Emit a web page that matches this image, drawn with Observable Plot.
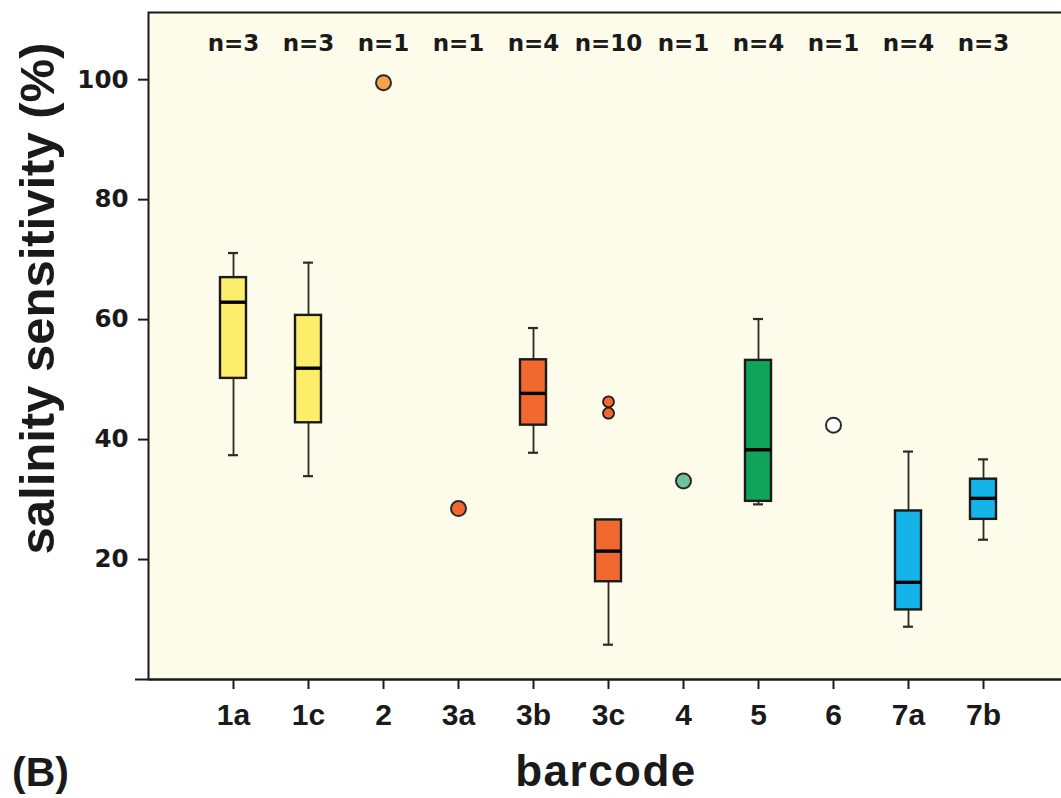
<!DOCTYPE html>
<html>
<head>
<meta charset="utf-8">
<script src="https://cdn.jsdelivr.net/npm/d3@7"></script>
<script src="https://cdn.jsdelivr.net/npm/@observablehq/plot@0.6"></script>
<style>
  html, body { margin: 0; padding: 0; background: #ffffff; overflow: hidden; }
  body { width: 1061px; height: 798px; position: relative; font-family: "Liberation Sans", Arial, sans-serif; color: #1a1a1a; }
  #chart { position: absolute; left: 0; top: 0; width: 1061px; height: 798px; overflow: hidden; }
  #chart svg { max-width: none !important; }
  #chart g[aria-label="text"] text { font-family: "DejaVu Sans", sans-serif; }
  #chart g[aria-label="y-axis tick label"] text { font-family: "DejaVu Sans", sans-serif; }
  .lbl { position: absolute; font-weight: bold; line-height: 1; white-space: nowrap; color: #1a1a1a; }
  #ylab { left: -263px; top: 273.5px; width: 600px; text-align: center; font-size: 49px; transform: rotate(-90deg); transform-origin: 300px 24.5px; }
  #xlab { left: 456px; top: 749px; width: 300px; text-align: center; font-size: 44px; letter-spacing: 1.5px; }
  #panel { left: 12px; top: 752px; font-size: 41px; }
</style>
</head>
<body>
<div id="chart"></div>
<div class="lbl" id="ylab">salinity sensitivity (%)</div>
<div class="lbl" id="xlab">barcode</div>
<div class="lbl" id="panel">(B)</div>
<script>
// categories
const barcodes = ["1a", "1c", "2", "3a", "3b", "3c", "4", "5", "6", "7a", "7b"];
const nCounts = [3, 3, 1, 1, 4, 10, 1, 4, 1, 4, 3];
const fillColors = ["#fcee6b", "#fcee6b", "#f6a24b", "#f2692f", "#f2692f", "#f2692f", "#6dc49c", "#10a45a", "#ffffff", "#14b4ea", "#14b4ea"];

// box plot series
const boxBarcodes = ["1a", "1c", "3b", "3c", "5", "7a", "7b"];
const whiskerLow = [37.4, 33.9, 37.8, 5.8, 29.2, 8.8, 23.3];
const q1 = [50.2, 42.8, 42.4, 16.3, 29.7, 11.6, 26.7];
const median = [62.9, 51.9, 47.7, 21.4, 38.3, 16.2, 30.2];
const q3 = [67.0, 60.7, 53.3, 26.6, 53.2, 28.1, 33.4];
const whiskerHigh = [71.1, 69.5, 58.6, 26.6, 60.1, 38.0, 36.7];

// single observations
const pointBarcodes = ["2", "3a", "4", "6"];
const pointValues = [99.5, 28.5, 33.1, 42.4];

// outliers
const outlierBarcodes = ["3c", "3c"];
const outlierValues = [46.3, 44.4];

// y tick labels
const yTicks = [20, 40, 60, 80, 100];

const boxes = boxBarcodes.map((b, i) => ({barcode: b, lo: whiskerLow[i], q1: q1[i], med: median[i], q3: q3[i], hi: whiskerHigh[i]}));
const singles = pointBarcodes.map((b, i) => ({barcode: b, value: pointValues[i]}));
const outliers = outlierBarcodes.map((b, i) => ({barcode: b, value: outlierValues[i]}));
const nLabels = barcodes.map((b, i) => ({barcode: b, label: "n=" + nCounts[i]}));

const ink = "#1a1a1a";

const chart = Plot.plot({
  width: 1068,
  height: 798,
  marginLeft: 148,
  marginRight: 0,
  marginTop: 12,
  marginBottom: 119,
  style: {background: "transparent", fontFamily: "'Liberation Sans', Arial, sans-serif", color: ink, maxWidth: "none"},
  x: {type: "band", domain: barcodes, range: [193.25, 1023.75], paddingInner: 0.65, paddingOuter: 0.325, label: null},
  y: {domain: [0, 111.2], label: null},
  color: {domain: barcodes, range: fillColors},
  marks: [
    Plot.frame({fill: "#fdfbea", stroke: "none"}),
    Plot.axisY({ticks: yTicks, tickSize: 10, tickPadding: 10, fontSize: 24.5, fontWeight: "bold", label: null, strokeWidth: 2, stroke: ink}),
    Plot.axisX({tickSize: 10, tickPadding: 14, fontSize: 30, fontWeight: "bold", label: null, strokeWidth: 2, stroke: ink}),
    Plot.ruleX(boxes, {x: "barcode", y1: "lo", y2: "hi", stroke: "#2a2a2a", strokeWidth: 1.8}),
    Plot.tickY(boxes, {x: "barcode", y: "lo", stroke: "#2a2a2a", strokeWidth: 2.2, insetLeft: 8, insetRight: 8}),
    Plot.tickY(boxes, {x: "barcode", y: "hi", stroke: "#2a2a2a", strokeWidth: 2.2, insetLeft: 8, insetRight: 8}),
    Plot.barY(boxes, {x: "barcode", y1: "q1", y2: "q3", fill: "barcode", stroke: ink, strokeWidth: 2.4}),
    Plot.tickY(boxes, {x: "barcode", y: "med", stroke: "#000", strokeWidth: 3.4}),
    Plot.dot(outliers, {x: "barcode", y: "value", r: 5.5, fill: "barcode", stroke: ink, strokeWidth: 1.8}),
    Plot.dot(singles, {x: "barcode", y: "value", r: 7.5, fill: "barcode", stroke: "#2a2a2a", strokeWidth: 2}),
    Plot.text(nLabels, {x: "barcode", text: "label", frameAnchor: "top", dy: 22, fontSize: 23, fontWeight: "bold", fill: ink}),
    Plot.frame({stroke: ink, strokeWidth: 2}),
    Plot.ruleY([0], {stroke: ink, strokeWidth: 2, insetLeft: -13})
  ]
});
document.getElementById("chart").appendChild(chart);
</script>
</body>
</html>
